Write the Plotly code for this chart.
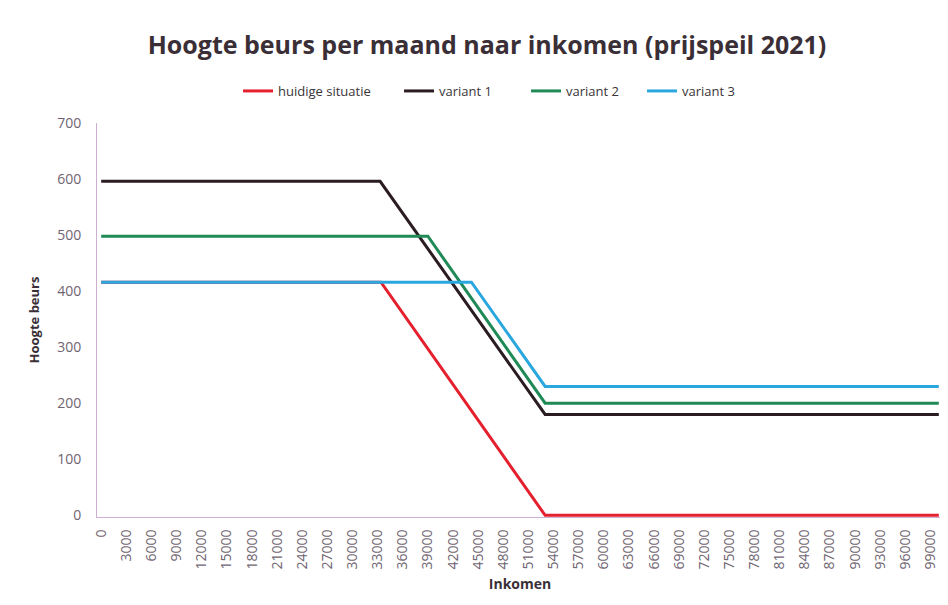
import plotly.graph_objects as go

# Data: breakpoints of each series
inkomen_huidig = [0, 33400, 53000, 100000]
beurs_huidig = [416, 416, 0, 0]

inkomen_v1 = [0, 33300, 53000, 100000]
beurs_v1 = [596, 596, 180, 180]

inkomen_v2 = [0, 39000, 53000, 100000]
beurs_v2 = [498, 498, 200, 200]

inkomen_v3 = [0, 44200, 53000, 100000]
beurs_v3 = [416, 416, 230, 230]

x_ticks = list(range(0, 100000, 3000))
y_ticks = [0, 100, 200, 300, 400, 500, 600, 700]

series = [
    ("huidige situatie", inkomen_huidig, beurs_huidig, "#E5202E", 116),
    ("variant 1", inkomen_v1, beurs_v1, "#2B1B22", 82),
    ("variant 2", inkomen_v2, beurs_v2, "#1F8A56", 71),
    ("variant 3", inkomen_v3, beurs_v3, "#2AA7DE", 55),
]

fig = go.Figure()
for name, xs, ys, col, lw in series:
    fig.add_trace(go.Scatter(
        x=xs, y=ys, mode="lines", name=name,
        line=dict(color=col, width=3), legendwidth=lw,
    ))

axis_col = "#CDAFD2"
tick_col = "#6F6471"
font_family = "Open Sans"

# page body has an 8px margin, so the figure is 8px smaller than the window
fig.update_layout(
    width=940, height=597,
    paper_bgcolor="white", plot_bgcolor="white",
    margin=dict(l=89, r=5, t=115, b=88, autoexpand=False),
    font=dict(family=font_family, color=tick_col),
    title=dict(
        text="<b>Hoogte beurs per maand naar inkomen (prijspeil 2021)</b>",
        x=0.5096, xanchor="center", y=0.938, yanchor="middle",
        font=dict(size=25, color="#3A2F36", family=font_family),
    ),
    legend=dict(
        orientation="h", x=0.5128, xref="container", xanchor="center",
        y=0.861, yref="container", yanchor="middle",
        font=dict(size=13, color="#3A3438"),
        itemwidth=30, tracegroupgap=0, bgcolor="rgba(0,0,0,0)",
    ),
    showlegend=True,
)

fig.update_xaxes(
    range=[-500, 100500], automargin=False,
    tickmode="array", tickvals=x_ticks, ticktext=[str(v) for v in x_ticks],
    tickangle=-90, tickfont=dict(size=14, color=tick_col),
    showgrid=False, zeroline=False,
    showline=True, linecolor=axis_col, linewidth=1,
    ticks="", ticklabelstandoff=6,
    title=dict(text="<b>Inkomen</b>", font=dict(size=14, color="#3A2F36"), standoff=10),
)
fig.update_yaxes(
    range=[-3, 700], automargin=False,
    tickmode="array", tickvals=y_ticks,
    tickfont=dict(size=14, color=tick_col),
    showgrid=False, zeroline=False,
    showline=True, linecolor=axis_col, linewidth=1,
    ticks="", ticklabelstandoff=12,
    title=dict(text="<b>Hoogte beurs</b>", font=dict(size=13, color="#3A2F36"), standoff=14),
)

fig.write_html("out.html")
